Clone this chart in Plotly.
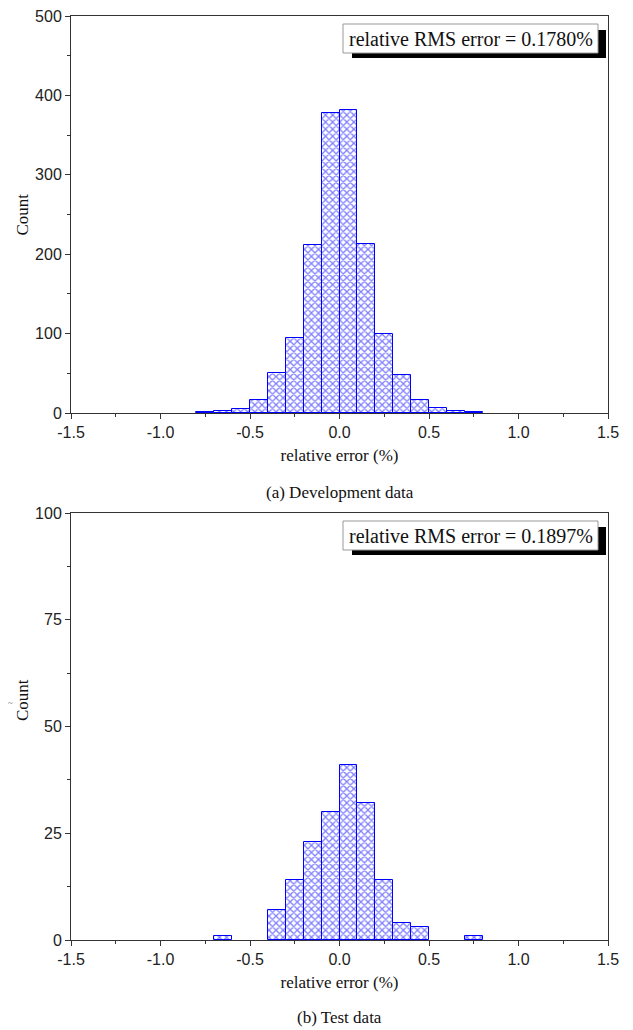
import plotly.graph_objects as go

# ---- data ----
bin_centers = [-0.75, -0.65, -0.55, -0.45, -0.35, -0.25, -0.15, -0.05,
               0.05, 0.15, 0.25, 0.35, 0.45, 0.55, 0.65, 0.75]
dev_counts = [1, 2, 5, 17, 51, 95, 212, 378, 382, 213, 99, 48, 16, 6, 3, 1]
test_counts = [0, 1, 0, 0, 7, 14, 23, 30, 41, 32, 14, 4, 3, 0, 0, 1]
bin_width = 0.1
x_tickvals = [-1.5, -1.0, -0.5, 0.0, 0.5, 1.0, 1.5]
x_ticktext = ["-1.5", "-1.0", "-0.5", "0.0", "0.5", "1.0", "1.5"]
dev_label = "relative RMS error = 0.1780%"
test_label = "relative RMS error = 0.1897%"
x_title = "relative error (%)"
y_title = "Count"
captions = ["(a) Development data", "(b) Test data"]

W, H = 633, 1030

def px(x):
    return x / W

def py(y):
    return 1 - y / H

X0, X1 = 71, 608
TOP = (16, 413)
BOT = (513, 940)

blue = "#0000ff"
serif = "Liberation Serif, Times New Roman"
fig = go.Figure()
for counts, xa, ya in [(dev_counts, "x", "y"), (test_counts, "x2", "y2")]:
    fig.add_trace(go.Bar(
        x=bin_centers, y=[c if c > 0 else None for c in counts],
        width=bin_width, xaxis=xa, yaxis=ya,
        marker=dict(color="white", line=dict(color=blue, width=1),
                    pattern=dict(shape="x", fgcolor=blue, bgcolor="white",
                                 size=5, solidity=0.45)),
        showlegend=False))

axis_common = dict(showline=True, linecolor="#333", linewidth=1, mirror=True,
                   showgrid=False, zeroline=False, ticks="outside", ticklen=5,
                   tickcolor="#333", automargin=False,
                   tickfont=dict(family="Liberation Sans, Arial", size=16, color="#222"))
xcommon = dict(axis_common, range=[-1.5, 1.5], tickvals=x_tickvals, ticktext=x_ticktext,
               minor=dict(ticks="outside", ticklen=3, dtick=0.25, tick0=-1.5, tickcolor="#333"),
               title=dict(text=x_title, font=dict(family=serif, size=17, color="#111"), standoff=8))
fig.update_layout(
    width=W, height=H, margin=dict(l=0, r=0, t=0, b=0),
    paper_bgcolor="white", plot_bgcolor="white", bargap=0,
    xaxis=dict(xcommon, domain=[px(X0), px(X1)], anchor="y"),
    yaxis=dict(axis_common, domain=[py(TOP[1]), py(TOP[0])], range=[0, 500], dtick=100,
               minor=dict(ticks="outside", ticklen=3, dtick=50, tickcolor="#333"),
               anchor="x"),
    xaxis2=dict(xcommon, domain=[px(X0), px(X1)], anchor="y2"),
    yaxis2=dict(axis_common, domain=[py(BOT[1]), py(BOT[0])], range=[0, 100], dtick=25,
                minor=dict(ticks="outside", ticklen=3, dtick=12.5, tickcolor="#333"),
                anchor="x2"),
)

shapes = []
annotations = []
panels = [(TOP, dev_label, captions[0], (TOP[0] + TOP[1]) / 2, 79),
          (BOT, test_label, captions[1], 700, 77)]
for (ptop, pbot), label, cap, ytitle_y, cap_off in panels:
    bt, bb = ptop + 8, ptop + 37
    bl, br = 343, 598
    shapes.append(dict(type="rect", xref="paper", yref="paper", layer="above",
                       x0=px(bl + 9), x1=px(br + 8), y0=py(bb + 5), y1=py(bt + 6),
                       fillcolor="black", line=dict(width=0)))
    shapes.append(dict(type="rect", xref="paper", yref="paper", layer="above",
                       x0=px(bl), x1=px(br), y0=py(bb), y1=py(bt),
                       fillcolor="white", line=dict(color="#999", width=1)))
    annotations.append(dict(text=label, xref="paper", yref="paper",
                            x=px((bl + br) / 2), y=py((bt + bb) / 2),
                            xanchor="center", yanchor="middle", showarrow=False,
                            font=dict(family=serif, size=20, color="#111")))
    annotations.append(dict(text=cap, xref="paper", yref="paper",
                            x=px((X0 + X1) / 2), y=py(pbot + cap_off),
                            xanchor="center", yanchor="middle", showarrow=False,
                            font=dict(family=serif, size=17, color="#111")))
    annotations.append(dict(text=y_title, xref="paper", yref="paper",
                            x=px(22), y=py(ytitle_y), textangle=-90,
                            xanchor="center", yanchor="middle", showarrow=False,
                            font=dict(family=serif, size=17, color="#111")))
annotations.append(dict(text="~", xref="paper", yref="paper", x=px(10), y=py(703),
                        xanchor="center", yanchor="middle", showarrow=False,
                        font=dict(family=serif, size=9, color="#666")))
fig.update_layout(shapes=shapes, annotations=annotations)

fig.write_html("out.html", config={"displayModeBar": False},
               post_script="document.body.style.margin='0';document.body.style.overflow='hidden';")
